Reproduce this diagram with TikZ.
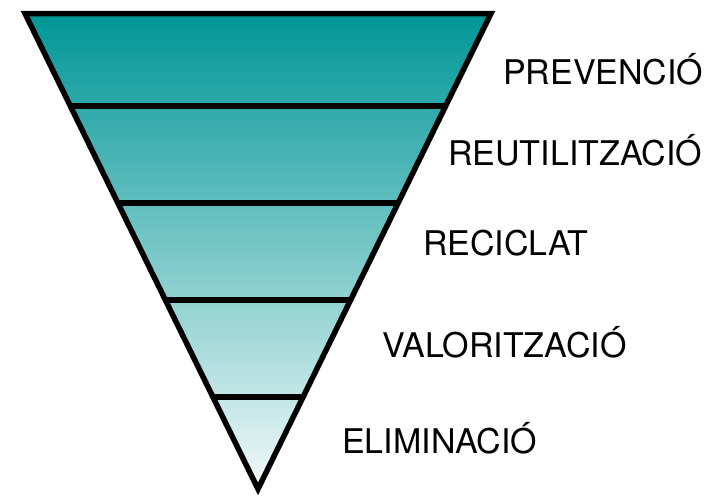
\documentclass[tikz,border=0pt]{standalone}
\usepackage{fontspec}
\setmainfont{TeX Gyre Heros}
\usetikzlibrary{calc}
\definecolor{tealtop}{RGB}{0,150,150}
\definecolor{tealbottom}{RGB}{242,249,249}
\begin{document}
\begin{tikzpicture}[x=1pt,y=-1pt,
    level/.style={anchor=base west,inner sep=0pt,font=\fontsize{34}{40}\selectfont},
    edge/.style={line width=5.5pt,line join=miter}]
                \useasboundingbox (0,0) rectangle (715,499);
                \coordinate (tl) at (25,13.5);
                \coordinate (tr) at (491,13.5);
                \coordinate (apex) at (258,489);

                \begin{scope}
                    \clip (tl) -- (tr) -- (apex) -- cycle;
                    \shade[top color=tealtop,bottom color=tealbottom] (tl) rectangle (491,489);
                \end{scope}

                \foreach \t [count=\i] in {0.194,0.398,0.602,0.806} {
                    \coordinate (l\i) at ($(tl)!\t!(apex)$);
                    \coordinate (r\i) at ($(tr)!\t!(apex)$);
                    \draw[edge] (l\i) -- (r\i);
                }
                \draw[edge] (tl) -- (tr) -- (apex) -- cycle;

                \node[level] (prev) at (503,84) {PREVENCIÓ};
                \node[level] (reut) at (448,165) {REUTILITZACIÓ};
                \node[level] (reci) at (423,255) {RECICLAT};
                \node[level] (valo) at (382,357) {VALORITZACIÓ};
                \node[level] (elim) at (342,453) {ELIMINACIÓ};
            \end{tikzpicture}
\end{document}
